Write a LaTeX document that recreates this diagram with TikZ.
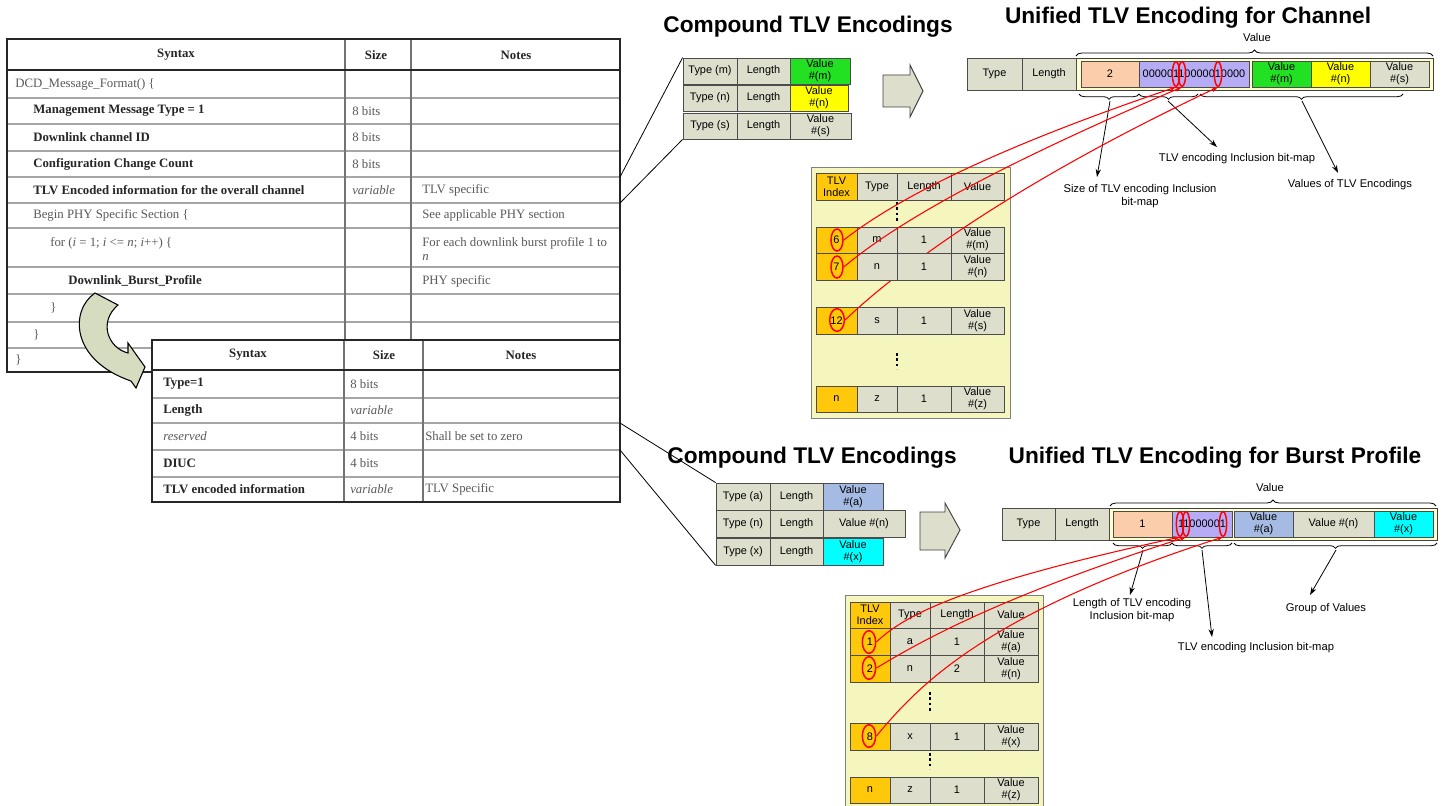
\documentclass[tikz,border=0pt]{standalone}
\usepackage{fontspec}
\setmainfont{Liberation Serif}
\newfontfamily\arial{Liberation Sans}
\usetikzlibrary{decorations.pathreplacing,arrows.meta,shapes.geometric}
\definecolor{cellgray}{HTML}{DDDFCC}
\definecolor{panelyel}{HTML}{F5F5BE}
\definecolor{valyel}{HTML}{FFFFCC}
\definecolor{idxorange}{HTML}{FFC80A}
\definecolor{peach}{HTML}{FBCDAA}
\definecolor{lav}{HTML}{B6ACF6}
\definecolor{vgreen}{HTML}{22E022}
\definecolor{vyellow}{HTML}{FFFF00}
\definecolor{vblue}{HTML}{A6BBE3}
\definecolor{vcyan}{HTML}{00FFFF}
\definecolor{curvefill}{HTML}{D5DCC0}
\newcommand\tcell[7][]{%
  \pgfmathsetmacro\tcW{(#5-#3)*0.75}%
  \pgfmathsetmacro\tcH{(#6-#4)*0.75}%
  \node[cellbase, minimum width=\tcW pt, minimum height=\tcH pt, #1] (#2) at ({(#3+#5)/2},{(#4+#6)/2}) {#7};}
\begin{document}
\begin{tikzpicture}[x=0.75pt,y=-0.75pt,
  cellbase/.style={draw=black!70, line width=0.6pt, fill=cellgray, inner sep=0pt, align=center,
    font=\arial\fontsize{8.2}{9}\selectfont, text=black},
  redell/.style={draw=red, line width=1.1pt, shape=ellipse, inner sep=0pt},
  redcurve/.style={draw=red, line width=0.8pt, -{Stealth[length=5pt,width=3.5pt]}},
  annot/.style={draw=black, line width=0.6pt, -{Stealth[length=6pt,width=4pt]}},
  lbl/.style={font=\arial\fontsize{8.4}{10}\selectfont, align=center, inner sep=0pt},
  ttl/.style={font=\arial\bfseries\fontsize{17}{20}\selectfont, inner sep=0pt},
  tb/.style={font=\fontsize{9.6}{11}\selectfont\bfseries, text=black!85, inner sep=0pt, anchor=west},
  tr/.style={font=\fontsize{9.6}{11}\selectfont, text=black!65, inner sep=0pt, anchor=west},
  braceup/.style={decorate, decoration={brace, amplitude=4.5pt}, draw=black, line width=0.6pt},
  bracedn/.style={decorate, decoration={brace, amplitude=4pt, mirror}, draw=black, line width=0.6pt},
  blockarrow/.style={draw=black!75, fill=cellgray, line width=0.7pt},
  tline/.style={draw=black!35, line width=1.1pt},
  cline/.style={draw=black!55, line width=0.9pt},
  dots/.style={draw=black, line width=1.6pt, dash pattern=on 2pt off 2pt},
  conn/.style={draw=black, line width=0.6pt}
]
\useasboundingbox (0,0) rectangle (1445,806);
\fill[white] (0,0) rectangle (1445,806);

% ---------------- Table 1 ----------------
\foreach \yy in {98,124,151,177,203,228,267,294,322,348} {\draw[tline] (7,\yy) -- (620,\yy);}
\draw[cline] (345,39) -- (345,372);
\draw[cline] (411,39) -- (411,372);
\draw[black!85, line width=2pt] (7,70) -- (620,70);
\draw[black!85, line width=1.7pt] (7,39) rectangle (620,372);
\node[tb, anchor=center] (t1h1) at (176,55) {Syntax};
\node[tb, anchor=center] (t1h2) at (376,55) {Size};
\node[tb, anchor=center] (t1h3) at (516,55) {Notes};
\node[tr] (t1a1) at (15,84) {DCD\_Message\_Format() \{};
\node[tb] (t1a2) at (33,111) {Management Message Type = 1};
\node[tr] (t1s2) at (352,111) {8 bits};
\node[tb] (t1a3) at (33,137.5) {Downlink channel ID};
\node[tr] (t1s3) at (352,137.5) {8 bits};
\node[tb] (t1a4) at (33,164) {Configuration Change Count};
\node[tr] (t1s4) at (352,164) {8 bits};
\node[tb] (t1a5) at (33,190) {TLV Encoded information for the overall channel};
\node[tr] (t1s5) at (352,190) {\textit{variable}};
\node[tr] (t1n5) at (422,190) {TLV specific};
\node[tr] (t1a6) at (33,215.5) {Begin PHY Specific Section \{};
\node[tr] (t1n6) at (422,215.5) {See applicable PHY section};
\node[tr] (t1a7) at (50,243) {for (\textit{i} = 1; \textit{i} <= \textit{n}; \textit{i}++) \{};
\node[tr] (t1n7) at (422,243) {For each downlink burst profile 1 to};
\node[tr] (t1m7) at (422,257) {\textit{n}};
\node[tb] (t1a8) at (68,281) {Downlink\_Burst\_Profile};
\node[tr] (t1n8) at (422,281) {PHY specific};
\node[tr] (t1a9) at (50,308) {\}};
\node[tr] (t1a10) at (33,335) {\}};
\node[tr] (t1a11) at (15,360) {\}};

% ---------------- Table 2 ----------------
\fill[white] (152,340) rectangle (620,502);
\foreach \yy in {398,423,450,477} {\draw[tline] (152,\yy) -- (620,\yy);}
\draw[cline] (344,340) -- (344,502);
\draw[cline] (423,340) -- (423,502);
\draw[black!85, line width=2pt] (152,370) -- (620,370);
\draw[black!85, line width=1.7pt] (152,340) rectangle (620,502);
\node[tb, anchor=center] (t2h1) at (248,355) {Syntax};
\node[tb, anchor=center] (t2h2) at (384,355) {Size};
\node[tb, anchor=center] (t2h3) at (521,355) {Notes};
\node[tb] (t2a1) at (163,384) {Type=1};
\node[tr] (t2s1) at (350,384) {8 bits};
\node[tb] (t2a2) at (163,410.5) {Length};
\node[tr] (t2s2) at (350,410.5) {\textit{variable}};
\node[tr] (t2a3) at (163,436.5) {\textit{reserved}};
\node[tr] (t2s3) at (350,436.5) {4 bits};
\node[tr] (t2n3) at (425,436.5) {Shall be set to zero};
\node[tb] (t2a4) at (163,463.5) {DIUC};
\node[tr] (t2s4) at (350,463.5) {4 bits};
\node[tb] (t2a5) at (163,489.5) {TLV encoded information};
\node[tr] (t2s5) at (350,489.5) {\textit{variable}};
\node[tr] (t2n5) at (425,489.5) {TLV Specific};

% curved block arrow
\draw[draw=black, line width=0.8pt, fill=curvefill]
  (95,293) .. controls (70,310) and (70,360) .. (131,381) -- (136,388) -- (145,367) -- (128,343) -- (128,353)
  .. controls (108,348) and (98,322) .. (118,305) -- cycle;

% ---------------- Titles ----------------
\node[ttl] (ttl1) at (808,27) {Compound TLV Encodings};
\node[ttl] (ttl2) at (1188,18) {Unified TLV Encoding for Channel};
\node[ttl] (ttl3) at (812,458) {Compound TLV Encodings};
\node[ttl] (ttl4) at (1215,458) {Unified TLV Encoding for Burst Profile};

% ---------------- Compound 1 ----------------
\tcell{cm1}{683}{58}{737}{84}{Type (m)}
\tcell{cm2}{737}{58}{790}{84}{Length}
\tcell[fill=vgreen]{cm3}{790}{58}{850}{84}{Value\\\#(m)}
\tcell{cn1}{683}{85}{737}{111}{Type (n)}
\tcell{cn2}{737}{85}{790}{111}{Length}
\tcell[fill=vyellow]{cn3}{790}{85}{848}{111}{Value\\\#(n)}
\tcell{cs1}{683}{113}{737}{139}{Type (s)}
\tcell{cs2}{737}{113}{790}{139}{Length}
\tcell{cs3}{790}{113}{851}{139}{Value\\\#(s)}
\coordinate (t1ca) at (620,177);
\coordinate (t1cb) at (620,203);
\draw[conn] (t1ca) -- (cm1.north west);
\draw[conn] (t1cb) -- (cs1.south west);
\draw[blockarrow] (883,75) -- (910,75) -- (910,65) -- (923,91) -- (910,117) -- (910,107) -- (883,107) -- cycle;

% ---------------- Compound 2 ----------------
\tcell{ca1}{716}{483}{770}{510}{Type (a)}
\tcell{ca2}{770}{483}{823}{510}{Length}
\tcell[fill=vblue]{ca3}{823}{483}{883}{510}{Value\\\#(a)}
\tcell{cb1}{716}{510}{770}{537}{Type (n)}
\tcell{cb2}{770}{510}{823}{537}{Length}
\tcell{cb3}{823}{510}{905}{537}{Value \#(n)}
\tcell{cx1}{716}{538}{770}{565}{Type (x)}
\tcell{cx2}{770}{538}{823}{565}{Length}
\tcell[fill=vcyan]{cx3}{823}{538}{883}{565}{Value\\\#(x)}
\coordinate (t2ca) at (620,423);
\coordinate (t2cb) at (620,450);
\draw[conn] (t2ca) -- (ca1.north west);
\draw[conn] (t2cb) -- (cx1.south west);
\draw[blockarrow] (920,512) -- (945,512) -- (945,503) -- (960,530) -- (945,558) -- (945,550) -- (920,550) -- cycle;

% ---------------- Unified channel ----------------
\draw[black!75, line width=0.7pt, fill=valyel] (1076,58) rectangle (1433,90);
\tcell{uct}{967}{58}{1022}{90}{Type}
\tcell{ucl}{1022}{58}{1076}{90}{Length}
\tcell[fill=peach]{uc0}{1081}{61}{1139}{87}{2}
\tcell[fill=lav]{uc1}{1139}{61}{1249}{87}{00000110000010000}
\tcell[fill=vgreen]{uc2}{1252}{61}{1311}{87}{Value\\\#(m)}
\tcell[fill=vyellow]{uc3}{1311}{61}{1370}{87}{Value\\\#(n)}
\tcell{uc4}{1370}{61}{1429}{87}{Value\\\#(s)}
\node[lbl] (ucv) at (1257,37) {Value};
\draw[braceup] (1076,56) -- (1433,56);
\draw[bracedn] (1079,94) -- (1139,94);
\draw[bracedn] (1139,94) -- (1198,94);
\draw[bracedn] (1200,94) -- (1403,94);
\coordinate (ucb1) at (1110,101);
\coordinate (ucb2) at (1168,101);
\coordinate (ucb3) at (1302,101);
\coordinate (uce1) at (1097,177);
\coordinate (uce2) at (1217,147);
\coordinate (uce3) at (1338,173);
\draw[annot] (ucb1) -- (uce1);
\draw[annot] (ucb2) -- (uce2);
\draw[annot] (ucb3) -- (uce3);
\node[lbl] (ucl1) at (1140,196) {Size of TLV encoding Inclusion\\bit-map};
\node[lbl] (ucl2) at (1237,159) {TLV encoding Inclusion bit-map};
\node[lbl] (ucl3) at (1350,185) {Values of TLV Encodings};
\node[redell, minimum width=5.5pt, minimum height=18.5pt] (ub1) at (1176,74) {};
\node[redell, minimum width=5.5pt, minimum height=18.5pt] (ub2) at (1182,74) {};
\node[redell, minimum width=5.5pt, minimum height=18.5pt] (ub3) at (1218,74) {};

% ---------------- Unified burst profile ----------------
\draw[black!75, line width=0.7pt, fill=valyel] (1109,508) rectangle (1437,540);
\tcell{ubt}{1002}{508}{1055}{540}{Type}
\tcell{ubl}{1055}{508}{1109}{540}{Length}
\tcell[fill=peach]{ub0}{1113}{511}{1172}{537}{1}
\tcell[fill=lav]{ubm}{1172}{511}{1232}{537}{11000001}
\tcell[fill=vblue]{uba}{1234}{511}{1293}{537}{Value\\\#(a)}
\tcell{ubn}{1293}{511}{1374}{537}{Value \#(n)}
\tcell[fill=vcyan]{ubx}{1374}{511}{1433}{537}{Value\\\#(x)}
\node[lbl] (ubv) at (1270,487) {Value};
\draw[braceup] (1110,506) -- (1436,506);
\draw[bracedn] (1113,543) -- (1172,543);
\draw[bracedn] (1172,543) -- (1232,543);
\draw[bracedn] (1234,543) -- (1437,543);
\coordinate (ubb1) at (1143,550);
\coordinate (ubb2) at (1202,550);
\coordinate (ubb3) at (1336,550);
\coordinate (ube1) at (1130,595);
\coordinate (ube2) at (1212,637);
\coordinate (ube3) at (1310,595);
\draw[annot] (ubb1) -- (ube1);
\draw[annot] (ubb2) -- (ube2);
\draw[annot] (ubb3) -- (ube3);
\node[lbl] (ubl1) at (1132,610) {Length of TLV encoding\\Inclusion bit-map};
\node[lbl] (ubl2) at (1256,648) {TLV encoding Inclusion bit-map};
\node[lbl] (ubl3) at (1326,609) {Group of Values};
\node[redell, minimum width=5.5pt, minimum height=18.5pt] (bb1) at (1180,524) {};
\node[redell, minimum width=5.5pt, minimum height=18.5pt] (bb2) at (1186,524) {};
\node[redell, minimum width=5.5pt, minimum height=18.5pt] (bb3) at (1223,524) {};

% ---------------- TLV table (channel) ----------------
\draw[draw=black!50, fill=panelyel, line width=0.7pt] (811,167) rectangle (1010,418);
\tcell[fill=idxorange]{th0}{816}{173}{857}{200}{TLV\\Index}
\tcell{th1}{857}{173}{897}{200}{Type}
\tcell{th2}{897}{173}{951}{200}{Length}
\tcell{th3}{951}{173}{1004}{200}{Value}
\tcell[fill=idxorange]{tm0}{816}{227}{857}{253}{6}
\tcell{tm1}{857}{227}{897}{253}{m}
\tcell{tm2}{897}{227}{951}{253}{1}
\tcell{tm3}{951}{227}{1004}{253}{Value\\\#(m)}
\tcell[fill=idxorange]{ts0}{816}{307}{857}{334}{12}
\tcell{ts1}{857}{307}{897}{334}{s}
\tcell{ts2}{897}{307}{951}{334}{1}
\tcell{ts3}{951}{307}{1004}{334}{Value\\\#(s)}
\tcell[fill=idxorange]{tz0}{816}{386}{857}{412}{n}
\tcell{tz1}{857}{386}{897}{412}{z}
\tcell{tz2}{897}{386}{951}{412}{1}
\tcell{tz3}{951}{386}{1004}{412}{Value\\\#(z)}
\node[redell, minimum width=11pt, minimum height=17pt] (e12) at (837,320) {};
\draw[redcurve] (e12.east) .. controls (885,282) and (990,195) .. (ub3.south);
\tcell[fill=idxorange]{tn0}{816}{253}{857}{280}{7}
\tcell{tn1}{857}{253}{897}{280}{n}
\tcell{tn2}{897}{253}{951}{280}{1}
\tcell{tn3}{951}{253}{1004}{280}{Value\\\#(n)}
\node[redell, minimum width=9pt, minimum height=16.5pt] (e6) at (837,240) {};
\node[redell, minimum width=9pt, minimum height=16.5pt] (e7) at (837,267) {};
\coordinate (dA1) at (897,202);
\coordinate (dA2) at (897,222);
\coordinate (dB1) at (897,353);
\coordinate (dB2) at (897,369);
\draw[dots] (dA1) -- (dA2);
\draw[dots] (dB1) -- (dB2);
\draw[redcurve] (e6.east) .. controls (895,200) and (990,150) .. (ub1.south);
\draw[redcurve] (e7.east) .. controls (900,220) and (1000,165) .. (ub2.south);

% ---------------- TLV table (burst profile) ----------------
\fill[panelyel] (845,595) rectangle (1043,806);
\draw[draw=black!50, line width=0.7pt] (845,806) -- (845,595) -- (1043,595) -- (1043,806);
\tcell[fill=idxorange]{bh0}{850}{602}{890}{628}{TLV\\Index}
\tcell{bh1}{890}{602}{930}{628}{Type}
\tcell{bh2}{930}{602}{984}{628}{Length}
\tcell{bh3}{984}{602}{1038}{628}{Value}
\tcell[fill=idxorange]{ba0}{850}{628}{890}{655}{1}
\tcell{ba1}{890}{628}{930}{655}{a}
\tcell{ba2}{930}{628}{984}{655}{1}
\tcell{ba3}{984}{628}{1038}{655}{Value\\\#(a)}
\tcell[fill=idxorange]{bn0}{850}{655}{890}{682}{2}
\tcell{bn1}{890}{655}{930}{682}{n}
\tcell{bn2}{930}{655}{984}{682}{2}
\tcell{bn3}{984}{655}{1038}{682}{Value\\\#(n)}
\tcell[fill=idxorange]{bx0}{850}{723}{890}{750}{8}
\tcell{bx1}{890}{723}{930}{750}{x}
\tcell{bx2}{930}{723}{984}{750}{1}
\tcell{bx3}{984}{723}{1038}{750}{Value\\\#(x)}
\tcell[fill=idxorange]{bz0}{850}{777}{890}{803}{n}
\tcell{bz1}{890}{777}{930}{803}{z}
\tcell{bz2}{930}{777}{984}{803}{1}
\tcell{bz3}{984}{777}{1038}{803}{Value\\\#(z)}
\coordinate (dC1) at (930,692);
\coordinate (dC2) at (930,711);
\coordinate (dD1) at (930,753);
\coordinate (dD2) at (930,769);
\draw[dots] (dC1) -- (dC2);
\draw[dots] (dD1) -- (dD2);
\node[redell, minimum width=10pt, minimum height=17pt] (f1) at (869,642) {};
\node[redell, minimum width=10pt, minimum height=17pt] (f2) at (869,668) {};
\node[redell, minimum width=10pt, minimum height=17pt] (f8) at (869,736) {};
\draw[redcurve] (f1.east) .. controls (905,615) and (960,585) .. (bb1.south);
\draw[redcurve] (f2.east) .. controls (915,645) and (990,600) .. (bb2.south);
\draw[redcurve] (f8.east) .. controls (915,690) and (980,615) .. (bb3.south);
\end{tikzpicture}
\end{document}
